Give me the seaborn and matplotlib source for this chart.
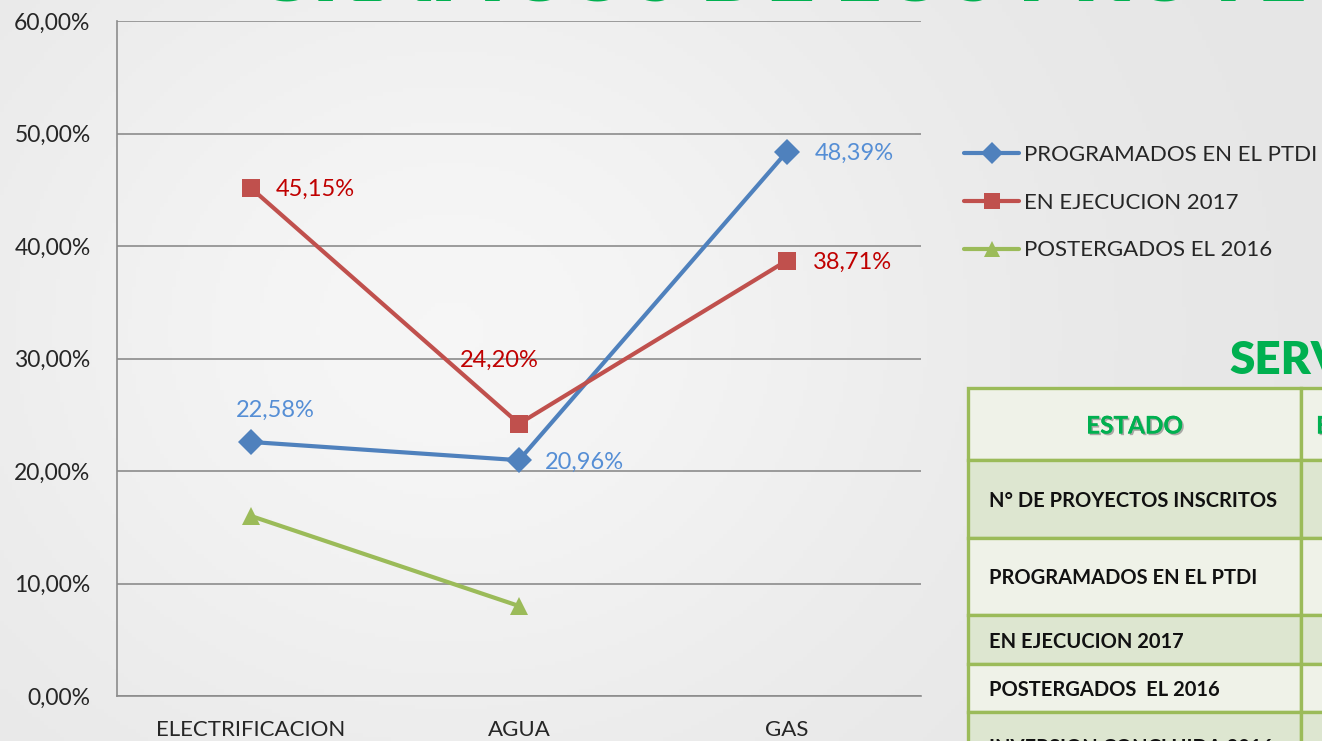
import numpy as np
import pandas as pd
import matplotlib
matplotlib.use("Agg")
import matplotlib.pyplot as plt
import matplotlib.patheffects as pe
from matplotlib.lines import Line2D
from matplotlib.patches import Rectangle
import seaborn as sns

# data
categorias = ["ELECTRIFICACION", "AGUA", "GAS"]
series = ["PROGRAMADOS EN EL PTDI", "EN EJECUCION 2017", "POSTERGADOS EL 2016"]
programados = [22.58, 20.96, 48.39]
en_ejecucion = [45.15, 24.20, 38.71]
postergados = [16.0, 8.0, np.nan]
y_ticks = [0, 10, 20, 30, 40, 50, 60]

tabla_filas = ["N° DE PROYECTOS INSCRITOS", "PROGRAMADOS EN EL PTDI",
               "EN EJECUCION 2017", "POSTERGADOS  EL 2016", "INVERSION CONCLUIDA 2016"]

colores = {series[0]: "#4F81BD", series[1]: "#C0504D", series[2]: "#9BBB59"}
marcadores = {series[0]: "D", series[1]: "s", series[2]: "^"}
color_etiqueta = {series[0]: "#558ED5", series[1]: "#C00000"}

rows = []
for s, vals in zip(series, [programados, en_ejecucion, postergados]):
    for i, v in enumerate(vals):
        rows.append({"serie": s, "pos": i, "valor": v})
df = pd.DataFrame(rows)

sns.set_theme(style="white")
plt.rcParams["font.family"] = ["Lato", "DejaVu Sans"]

W, H = 1322, 741
fig = plt.figure(figsize=(W / 100, H / 100), dpi=100)
fig.patch.set_facecolor("#E9E9E9")

# background / overlay axes in pixel coordinates
bg = fig.add_axes([0, 0, 1, 1], zorder=0)
bg.set_xlim(0, W)
bg.set_ylim(H, 0)
bg.axis("off")

# soft light swoosh behind the chart
yy, xx = np.mgrid[0:H:4, 0:W:4]
glow = np.exp(-((xx - 450) ** 2) / (2 * 380 ** 2) - ((yy - 330) ** 2) / (2 * 330 ** 2))
bg.imshow(glow, extent=[0, W, H, 0], cmap=matplotlib.colors.LinearSegmentedColormap.from_list(
    "g", ["#E6E6E6", "#F6F6F6"]), aspect="auto", zorder=0)

# cut-off title at the very top (only its lower edge shows)
bg.text(250, 1, "GRÁFICOS DE LOS PROYECTOS", fontsize=62, fontweight="heavy",
        color="#00B050", va="baseline", ha="left", clip_on=False, zorder=3)

# table on the right
col_x = [968, 1301, 1400]
row_y = [388, 460, 538, 615, 664, 712, 790]
fills = ["#EFF2E8", "#DDE6D0", "#EFF2E8", "#DDE6D0", "#EFF2E8", "#DDE6D0"]
for r in range(len(row_y) - 1):
    for c in range(len(col_x) - 1):
        bg.add_patch(Rectangle((col_x[c], row_y[r]), col_x[c + 1] - col_x[c],
                               row_y[r + 1] - row_y[r], facecolor=fills[r],
                               edgecolor="#9BBB59", lw=2.4, zorder=2))
shadow = [pe.withSimplePatchShadow(offset=(1.2, -1.2), shadow_rgbFace="#777777", alpha=0.6), pe.Normal()]
bg.text((col_x[0] + col_x[1]) / 2, (row_y[0] + row_y[1]) / 2 + 2, "ESTADO", fontsize=17.5,
        fontweight="bold", color="#00B050", ha="center", va="center", zorder=3, path_effects=shadow)
bg.text(col_x[1] + 15, (row_y[0] + row_y[1]) / 2 + 2, "ELECTRIFICACION", fontsize=17.5,
        fontweight="bold", color="#00B050", ha="left", va="center", zorder=3, path_effects=shadow)
for r, lab in enumerate(tabla_filas):
    if r < len(tabla_filas) - 1:
        yc = (row_y[r + 1] + row_y[r + 2]) / 2 + 2
    else:
        yc = row_y[r + 1] + 36
    bg.text(989, yc, lab, fontsize=14.5, fontweight="bold", color="#111111",
            ha="left", va="center", zorder=3)
bg.text(1229, 374, "SERVICIOS", fontsize=33, fontweight="heavy", color="#00B050",
        ha="left", va="baseline", zorder=3)

# chart
ax = fig.add_axes([117 / W, 45 / H, 804 / W, 675 / H], zorder=2)
ax.patch.set_alpha(0)
sns.lineplot(data=df, x="pos", y="valor", hue="serie", style="serie",
             palette=colores, markers=marcadores, dashes=False, sort=False,
             linewidth=3, markersize=13, markeredgewidth=0, legend=False, ax=ax)

ax.set_xlim(-0.5, len(categorias) - 0.5)
ax.set_ylim(0, 60)
ax.set_yticks(y_ticks)
ax.set_yticklabels([f"{t:.2f}%".replace(".", ",") for t in y_ticks], fontsize=16.5)
ax.set_xticks(range(len(categorias)))
ax.set_xticklabels(categorias, fontsize=16)
ax.set_xticks(np.arange(len(categorias) + 1) - 0.5, minor=True)
ax.tick_params(axis="x", which="major", length=0, pad=17)
ax.tick_params(axis="x", which="minor", length=7, width=1.2, color="#888888", direction="out")
ax.tick_params(axis="y", length=7, width=1.2, color="#888888", direction="out", pad=12)
ax.set_xlabel("")
ax.set_ylabel("")
ax.grid(axis="y", color="#8C8C8C", lw=1.2)
ax.grid(axis="x", visible=False)
for side in ["top", "right"]:
    ax.spines[side].set_visible(False)
for side in ["left", "bottom"]:
    ax.spines[side].set_color("#8C8C8C")
    ax.spines[side].set_linewidth(1.2)
ax.set_axisbelow(True)

# data labels (offsets in pixels)
offsets = {
    (series[0], 0): (24, 32, "center"), (series[0], 1): (26, -2, "left"),
    (series[0], 2): (28, -2, "left"),
    (series[1], 0): (25, -1, "left"), (series[1], 1): (-20, 63, "center"),
    (series[1], 2): (26, -2, "left"),
}
for s, vals in zip(series[:2], [programados, en_ejecucion]):
    for i, v in enumerate(vals):
        dx, dy, ha = offsets[(s, i)]
        ax.annotate(f"{v:.2f}%".replace(".", ","), (i, v), xytext=(dx, dy),
                    textcoords="offset pixels", ha=ha, va="center",
                    fontsize=17, color=color_etiqueta[s])

handles = [Line2D([0], [0], color=colores[s], marker=marcadores[s], lw=3,
                  markersize=11, markeredgewidth=0) for s in series]
fig.legend(handles, series, loc="upper left", bbox_to_anchor=(955 / W, 1 - 136 / H),
           frameon=False, fontsize=16, handlelength=2.5, handletextpad=0.2,
           labelspacing=1.25, borderaxespad=0)

fig.savefig("out.png", dpi=100, facecolor=fig.get_facecolor())
